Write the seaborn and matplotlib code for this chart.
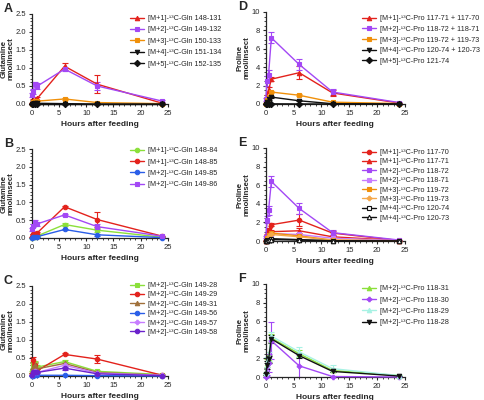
import matplotlib
matplotlib.use("Agg")
import matplotlib.pyplot as plt
from matplotlib.ticker import AutoMinorLocator, MultipleLocator
import seaborn as sns

sns.set_style("ticks")
plt.rcParams['font.family'] = ['Liberation Sans', 'DejaVu Sans']

hours = [0, 0.25, 0.5, 1, 6, 12, 24]

RED = "#e3221c"
PURPLE = "#a348f5"
ORANGE = "#f0900a"
BLACK = "#111111"
GREEN = "#8be03a"
BLUE = "#2a5ee8"
BROWN = "#a0703a"
LPURPLE = "#c77dff"
DPURPLE = "#6b22cc"
CYAN = "#a8f2e4"

# Panel A: glutamine
a_labels = ["[M+1]-¹³C-Gln 148-131", "[M+2]-¹³C-Gln 149-132", "[M+3]-¹³C-Gln 150-133",
            "[M+4]-¹³C-Gln 151-134", "[M+5]-¹³C-Gln 152-135"]
a_vals = [[0.02, 0.10, 0.12, 0.16, 1.05, 0.55, 0.02],
          [0.25, 0.35, 0.55, 0.50, 0.97, 0.50, 0.08],
          [0.01, 0.05, 0.07, 0.08, 0.14, 0.04, 0.01],
          [0.00, 0.01, 0.02, 0.02, 0.01, 0.00, 0.00],
          [0.00, 0.00, 0.00, 0.00, 0.00, 0.00, 0.00]]
a_err = [[0, 0.03, 0.03, 0.04, 0.10, 0.25, 0.01],
         [0.05, 0.08, 0.06, 0.07, 0.04, 0.10, 0.02],
         [0, 0.01, 0.01, 0.01, 0.02, 0.01, 0],
         [0, 0, 0, 0, 0, 0, 0],
         [0, 0, 0, 0, 0, 0, 0]]

# Panel D: proline
d_labels = ["[M+1]-¹³C-Pro 117-71 + 117-70", "[M+2]-¹³C-Pro 118-72 + 118-71",
            "[M+3]-¹³C-Pro 119-72 + 119-73", "[M+4]-¹³C-Pro 120-74 + 120-73",
            "[M+5]-¹³C-Pro 121-74"]
d_vals = [[0.1, 0.8, 1.5, 2.7, 3.4, 1.2, 0.1],
          [0.5, 2.5, 3.2, 7.2, 4.3, 1.3, 0.15],
          [0.05, 0.4, 0.8, 1.3, 0.95, 0.2, 0.05],
          [0.02, 0.2, 0.5, 0.75, 0.35, 0.03, 0.0],
          [0.0, 0.0, 0.01, 0.02, 0.01, 0.0, 0.0]]
d_err = [[0.05, 0.2, 0.3, 0.25, 0.7, 0.3, 0.05],
         [0.2, 0.5, 0.5, 0.6, 0.6, 0.3, 0.05],
         [0.02, 0.1, 0.1, 0.15, 0.1, 0.05, 0.02],
         [0, 0.05, 0.1, 0.15, 0.05, 0.01, 0],
         [0, 0, 0, 0, 0, 0, 0]]

# Panel B
b_labels = ["[M+1]-¹³C-Gln 148-84", "[M+1]-¹³C-Gln 148-85",
            "[M+2]-¹³C-Gln 149-85", "[M+2]-¹³C-Gln 149-86"]
b_vals = [[0.01, 0.03, 0.04, 0.06, 0.38, 0.22, 0.02],
          [0.03, 0.10, 0.12, 0.15, 0.88, 0.52, 0.05],
          [0.01, 0.02, 0.03, 0.04, 0.24, 0.09, 0.01],
          [0.25, 0.35, 0.45, 0.40, 0.65, 0.32, 0.05]]
b_err = [[0, 0, 0, 0.01, 0.03, 0.05, 0],
         [0, 0.02, 0.02, 0.03, 0.03, 0.22, 0.01],
         [0, 0, 0, 0, 0.02, 0.02, 0],
         [0.04, 0.05, 0.05, 0.05, 0.03, 0.08, 0.01]]

# Panel E
e_labels = ["[M+1]-¹³C-Pro 117-70", "[M+1]-¹³C-Pro 117-71", "[M+2]-¹³C-Pro 118-72",
            "[M+2]-¹³C-Pro 118-71", "[M+3]-¹³C-Pro 119-72", "[M+3]-¹³C-Pro 119-73",
            "[M+4]-¹³C-Pro 120-74", "[M+4]-¹³C-Pro 120-73"]
e_vals = [[0.05, 0.6, 1.2, 1.75, 2.25, 0.85, 0.05],
          [0.03, 0.3, 0.6, 1.0, 1.1, 0.45, 0.05],
          [0.4, 2.3, 3.3, 6.4, 3.5, 0.9, 0.1],
          [0.05, 0.3, 0.6, 0.8, 0.7, 0.3, 0.05],
          [0.03, 0.3, 0.6, 0.85, 0.55, 0.1, 0.02],
          [0.02, 0.2, 0.5, 0.7, 0.45, 0.08, 0.02],
          [0.0, 0.1, 0.15, 0.25, 0.15, 0.02, 0.0],
          [0.0, 0.05, 0.1, 0.15, 0.1, 0.01, 0.0]]
e_err = [[0.02, 0.15, 0.2, 0.15, 0.6, 0.2, 0.02],
         [0.01, 0.1, 0.1, 0.15, 0.25, 0.1, 0.02],
         [0.1, 0.4, 0.5, 0.6, 0.6, 0.25, 0.05],
         [0.01, 0.05, 0.1, 0.1, 0.1, 0.05, 0.01],
         [0, 0.05, 0.05, 0.1, 0.05, 0.02, 0],
         [0, 0.05, 0.05, 0.1, 0.05, 0.02, 0],
         [0, 0, 0, 0.05, 0.02, 0, 0],
         [0, 0, 0, 0.03, 0.02, 0, 0]]

# Panel C
c_labels = ["[M+2]-¹³C-Gln 149-28", "[M+2]-¹³C-Gln 149-29", "[M+2]-¹³C-Gln 149-31",
            "[M+2]-¹³C-Gln 149-56", "[M+2]-¹³C-Gln 149-57", "[M+2]-¹³C-Gln 149-58"]
c_vals = [[0.10, 0.30, 0.35, 0.25, 0.40, 0.13, 0.04],
          [0.05, 0.45, 0.30, 0.15, 0.60, 0.47, 0.02],
          [0.05, 0.25, 0.30, 0.20, 0.35, 0.10, 0.02],
          [0.00, 0.01, 0.02, 0.02, 0.02, 0.01, 0.00],
          [0.02, 0.12, 0.15, 0.10, 0.30, 0.08, 0.02],
          [0.02, 0.10, 0.12, 0.10, 0.22, 0.06, 0.01]]
c_err = [[0.03, 0.08, 0.08, 0.05, 0.05, 0.03, 0.01],
         [0.02, 0.08, 0.1, 0.04, 0.03, 0.1, 0.01],
         [0.02, 0.05, 0.06, 0.05, 0.05, 0.02, 0.01],
         [0, 0, 0, 0, 0, 0, 0],
         [0, 0.03, 0.03, 0.03, 0.1, 0.02, 0],
         [0, 0.02, 0.02, 0.02, 0.04, 0.02, 0]]

# Panel F
f_labels = ["[M+2]-¹³C-Pro 118-31", "[M+2]-¹³C-Pro 118-30",
            "[M+2]-¹³C-Pro 118-29", "[M+2]-¹³C-Pro 118-28"]
f_vals = [[0.3, 1.5, 2.0, 4.2, 2.5, 0.7, 0.15],
          [0.0, 0.1, 1.5, 3.9, 1.2, 0.05, 0.0],
          [0.4, 1.6, 2.2, 4.4, 2.7, 0.9, 0.15],
          [0.3, 1.3, 1.9, 4.1, 2.3, 0.6, 0.1]]
f_err = [[0.1, 0.4, 0.4, 0.4, 0.4, 0.2, 0.05],
         [0, 0.1, 1.0, 2.0, 1.2, 0.05, 0],
         [0.1, 0.5, 0.5, 0.4, 0.5, 0.4, 0.05],
         [0.1, 0.4, 0.4, 0.4, 0.3, 0.1, 0.05]]

panels = [
    # letter, labels, vals, err, colors, markers, open, ymax, ystep, ylab, axes rect, legend anchor, spacing
    ("A", a_labels, a_vals, a_err, [RED, PURPLE, ORANGE, BLACK, BLACK],
     ["^", "s", "s", "v", "D"], [], 2.5, 0.5, "Glutamine\nnmol/insect",
     [0.066, 0.740, 0.280, 0.225], (0.268, 0.9625), 0.6),
    ("B", b_labels, b_vals, b_err, [GREEN, RED, BLUE, PURPLE],
     ["o", "o", "o", "s"], [], 2.5, 0.5, "Glutamine\nnmol/insect",
     [0.066, 0.405, 0.280, 0.222], (0.268, 0.6325), 0.61),
    ("C", c_labels, c_vals, c_err, [GREEN, RED, BROWN, BLUE, LPURPLE, DPURPLE],
     ["s", "o", "^", "o", "P", "o"], [], 2.5, 0.5, "Glutamine\nnmol/insect",
     [0.066, 0.060, 0.280, 0.225], (0.268, 0.295), 0.32),
    ("D", d_labels, d_vals, d_err, [RED, PURPLE, ORANGE, BLACK, BLACK],
     ["^", "s", "s", "v", "D"], [], 10, 2, "Proline\nnmol/insect",
     [0.548, 0.740, 0.287, 0.230], (0.746, 0.9625), 0.51),
    ("E", e_labels, e_vals, e_err, [RED, RED, PURPLE, LPURPLE, ORANGE, "#f5a84a", BLACK, BLACK],
     ["o", "^", "s", "s", "s", "P", "s", "^"], [6, 7], 10, 2, "Proline\nnmol/insect",
     [0.548, 0.3975, 0.287, 0.2325], (0.746, 0.6275), 0.32),
    ("F", f_labels, f_vals, f_err, [GREEN, PURPLE, CYAN, BLACK],
     ["^", "P", "^", "v"], [], 10, 2, "Proline\nnmol/insect",
     [0.548, 0.0575, 0.287, 0.2325], (0.746, 0.2875), 0.61),
]

fig = plt.figure(figsize=(4.85, 4.0), dpi=100)

for letter, labels, vals, errs, colors, markers, opened, ymax, ystep, ylab, rect, anchor, spacing in panels:
    ax = fig.add_axes(rect)
    for i, (lab, v, e) in enumerate(zip(labels, vals, errs)):
        c = colors[i]
        mfc = "white" if i in opened else c
        sns.lineplot(x=hours, y=v, ax=ax, color=c, marker=markers[i], markersize=3.2,
                     markerfacecolor=mfc, markeredgecolor=c, markeredgewidth=0.8,
                     linewidth=1.0, label=lab, clip_on=False, zorder=3)
        ax.errorbar(hours, v, yerr=e, fmt="none", ecolor=c, elinewidth=0.8,
                    capsize=2, capthick=0.8, clip_on=False, zorder=2)
    ax.set_xlim(0, 25)
    ax.set_ylim(0, ymax)
    ax.xaxis.set_major_locator(MultipleLocator(5))
    ax.yaxis.set_major_locator(MultipleLocator(ystep))
    ax.xaxis.set_minor_locator(AutoMinorLocator(5))
    ax.yaxis.set_minor_locator(AutoMinorLocator())
    if ymax < 5:
        ax.yaxis.set_major_formatter(plt.FormatStrFormatter("%.1f"))
    ax.tick_params(axis="both", which="major", labelsize=5.5, length=2.5, width=0.8, pad=1.5)
    ax.tick_params(axis="both", which="minor", length=1.5, width=0.6)
    for s in ("left", "bottom"):
        ax.spines[s].set_linewidth(0.9)
    sns.despine(ax=ax)
    ax.set_xlabel("Hours after feeding", fontsize=6, fontweight="bold", labelpad=3)
    ax.set_ylabel(ylab, fontsize=5.6, fontweight="bold", labelpad=1, linespacing=1.05)
    ax.legend(loc="upper left", bbox_to_anchor=anchor, bbox_transform=fig.transFigure,
              frameon=False, fontsize=5.2, handlelength=2.0, handletextpad=0.5,
              labelspacing=spacing, borderaxespad=0, borderpad=0)
    fig.text(rect[0] - 0.058, rect[1] + rect[3] + 0.012, letter, fontsize=9,
             fontweight="bold", va="center")

fig.savefig("out.png", dpi=100)
